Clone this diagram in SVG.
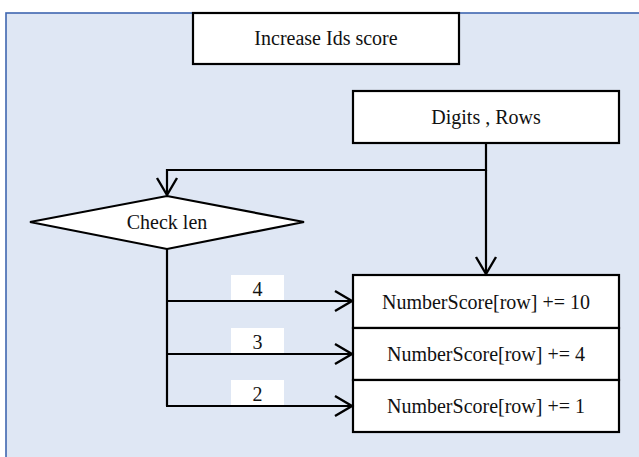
<svg xmlns="http://www.w3.org/2000/svg" width="639" height="457" viewBox="0 0 639 457">
<style>
.box{fill:#ffffff;stroke:#000000;stroke-width:2.2}
.lbl{fill:#ffffff;stroke:none}
.t{font-family:'Liberation Serif','Times New Roman',serif;font-size:20px;fill:#111111;text-anchor:middle}
.c{fill:none;stroke:#000000;stroke-width:2.2}
</style>
<defs>
<marker id="arr" markerUnits="userSpaceOnUse" markerWidth="24" markerHeight="26" viewBox="-20 -13 24 26" refX="0" refY="0" orient="auto">
<path d="M-17,-10 L0,0 L-17,10" fill="none" stroke="#000000" stroke-width="2.4"/>
</marker>
</defs>
<rect x="0" y="0" width="639" height="457" fill="#ffffff"/>
<rect x="6" y="13" width="700" height="500" fill="#dfe7f4" stroke="#3f66b0" stroke-width="1.6"/>
<g id="title">
<rect class="box" x="193" y="13" width="266" height="51"/>
<text class="t" x="326" y="45">Increase Ids score</text>
</g>
<g id="input">
<rect class="box" x="353" y="91" width="266" height="52"/>
<text class="t" x="486" y="124">Digits , Rows</text>
</g>
<g id="check">
<polygon class="box" points="167,196 304,222 167,249 30,222"/>
<text class="t" x="167" y="229">Check len</text>
</g>
<g id="score10">
<rect class="box" x="353" y="275" width="266" height="53"/>
<text class="t" x="486" y="309">NumberScore[row] += 10</text>
</g>
<g id="score4">
<rect class="box" x="353" y="328" width="266" height="52"/>
<text class="t" x="486" y="361">NumberScore[row] += 4</text>
</g>
<g id="score1">
<rect class="box" x="353" y="380" width="266" height="52"/>
<text class="t" x="486" y="413">NumberScore[row] += 1</text>
</g>
<g id="connectors">
<polyline class="c" points="486,143 486,170 167,170 167,195" marker-end="url(#arr)"/>
<line class="c" x1="486" y1="170" x2="486" y2="274" marker-end="url(#arr)"/>
<line class="c" x1="167" y1="249" x2="167" y2="406"/>
<line class="c" x1="166" y1="301" x2="352" y2="301" marker-end="url(#arr)"/>
<line class="c" x1="166" y1="354" x2="352" y2="354" marker-end="url(#arr)"/>
<line class="c" x1="166" y1="406" x2="352" y2="406" marker-end="url(#arr)"/>
<rect class="lbl" x="231" y="275" width="53" height="25"/>
<text class="t" x="257.5" y="296">4</text>
<rect class="lbl" x="231" y="328" width="53" height="25"/>
<text class="t" x="257.5" y="349">3</text>
<rect class="lbl" x="231" y="380" width="53" height="25"/>
<text class="t" x="257.5" y="401">2</text>
</g>
</svg>
